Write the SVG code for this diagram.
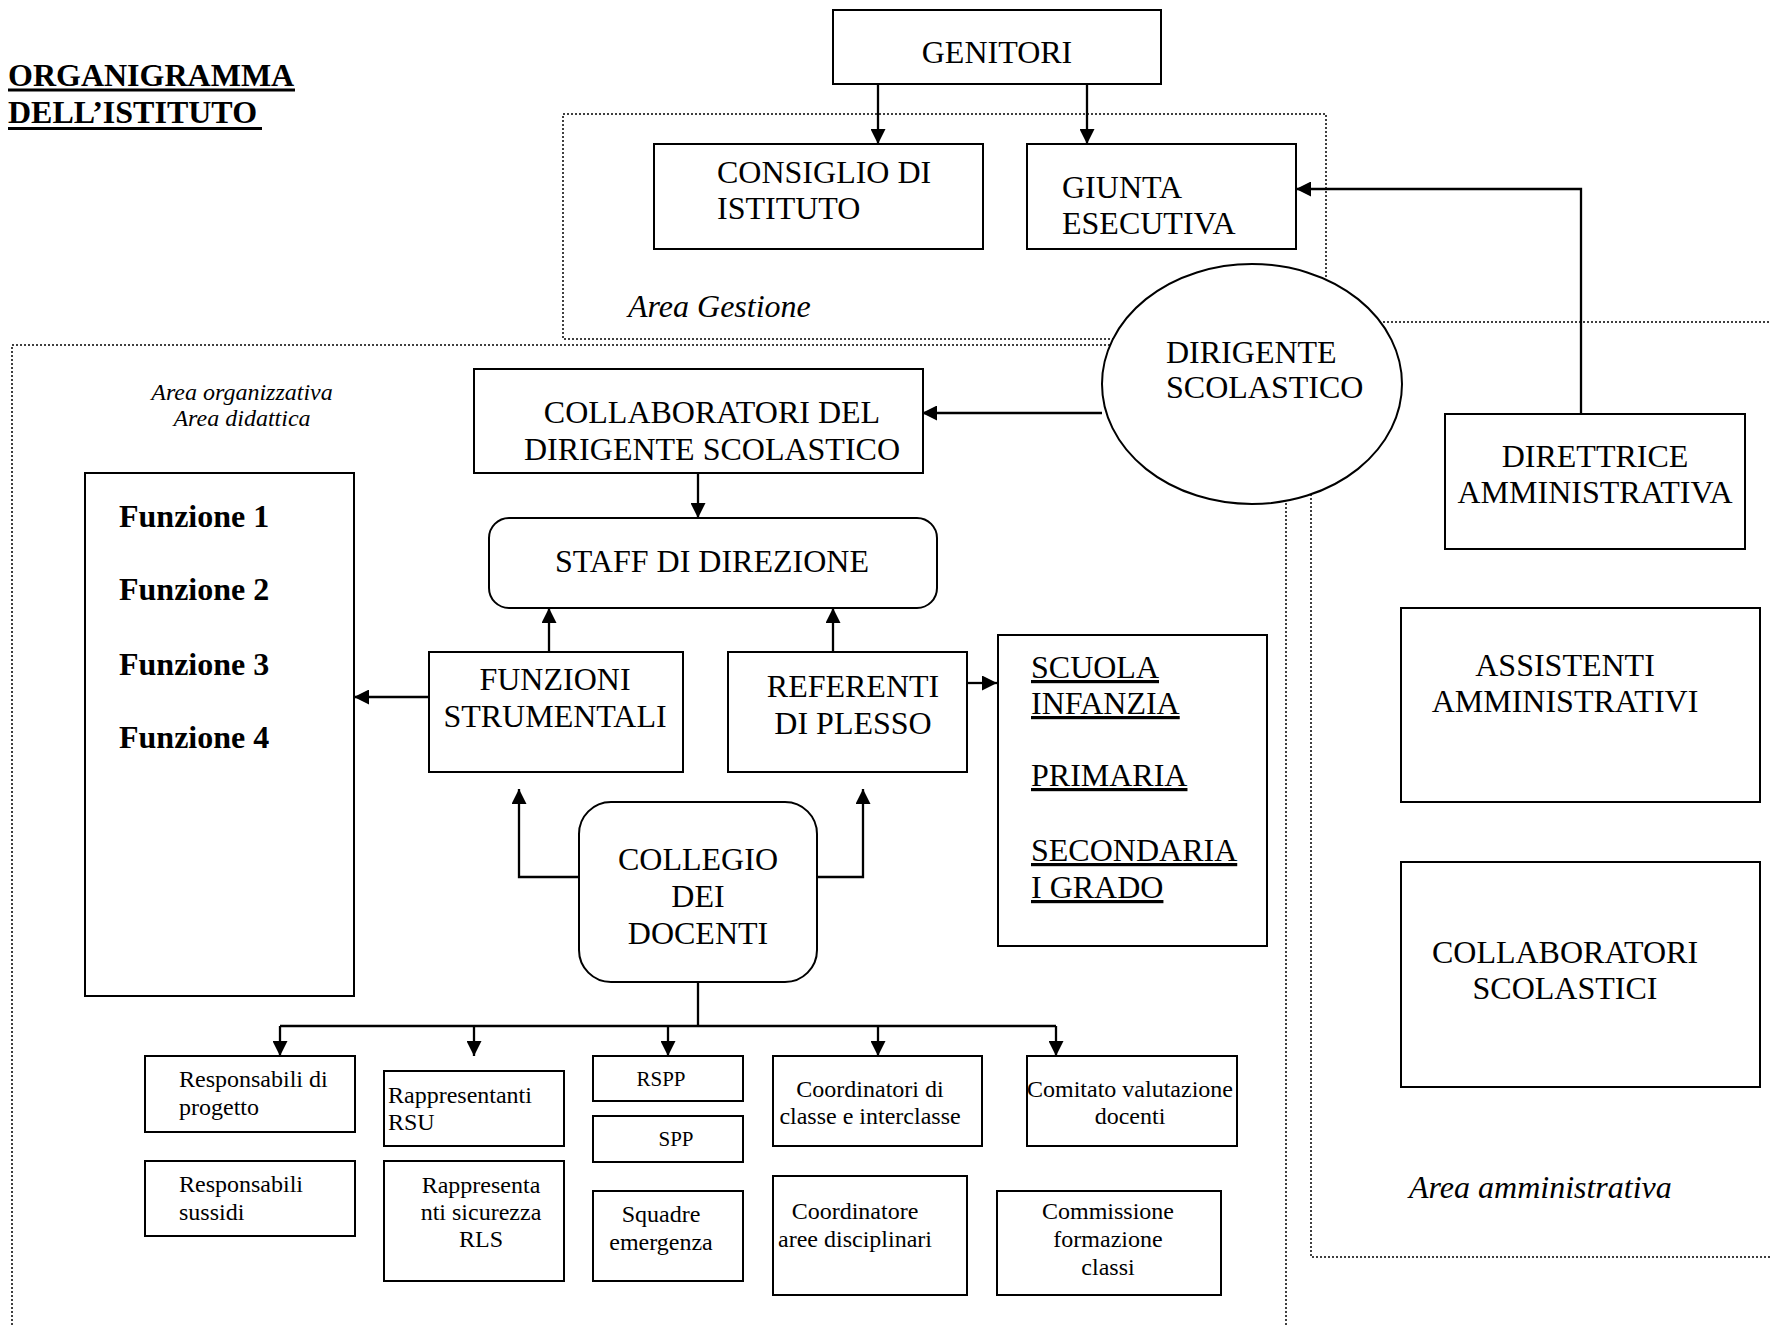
<svg xmlns="http://www.w3.org/2000/svg" width="1770" height="1327" viewBox="0 0 1770 1327">
<style>
text { font-family: "Liberation Serif", "Times New Roman", serif; font-size: 32px; fill: #000; }
.s { font-size: 24px; }
.xs { font-size: 21px; }
.b { font-weight: bold; }
.i { font-style: italic; }
.u { text-decoration: underline; }
.m { text-anchor: middle; }
.box { fill: #fff; stroke: #000; stroke-width: 2; }
.dot { fill: none; stroke: #000; stroke-width: 1.5; stroke-dasharray: 2 2; }
.ul { stroke: #000; stroke-width: 3; }
#connectors path { fill: none; stroke: #000; stroke-width: 2.3; }
.arr { marker-end: url(#ah); }
</style>
<defs>
<marker id="ah" viewBox="0 0 15 15" markerWidth="15" markerHeight="15" refX="15" refY="7.5" orient="auto" markerUnits="userSpaceOnUse">
<path d="M0,0 L15,7.5 L0,15 Z" fill="#000"/>
</marker>
</defs>
<rect width="1770" height="1327" fill="#fff"/>

<g id="title">
<text x="8" y="86" class="b">ORGANIGRAMMA</text>
<text x="8" y="123" class="b">DELL’ISTITUTO</text>
<line class="ul" x1="8" y1="90" x2="295" y2="90"/>
<line class="ul" x1="8" y1="128.5" x2="262" y2="128.5"/>
</g>

<g id="areas">
<rect class="dot" x="563" y="114" width="763" height="225"/>
<rect class="dot" x="12" y="345" width="1274" height="1020"/>
<rect class="dot" x="1311" y="322" width="520" height="935"/>
<text x="628" y="317" class="i">Area Gestione</text>
<text x="242" y="400" class="s i m">Area organizzativa</text>
<text x="242" y="426" class="s i m">Area didattica</text>
<text x="1409" y="1198" class="i">Area amministrativa</text>
</g>

<g id="connectors">
<path class="arr" d="M878,84 V144"/>
<path class="arr" d="M1087,84 V144"/>
<path class="arr" d="M1581,414 V189 H1296"/>
<path class="arr" d="M1102,413 H922"/>
<path class="arr" d="M698,473 V518"/>
<path class="arr" d="M549,652 V608"/>
<path class="arr" d="M833,652 V608"/>
<path class="arr" d="M429,697 H354"/>
<path class="arr" d="M967,683 H997"/>
<path class="arr" d="M579,877 H519 V789"/>
<path class="arr" d="M817,877 H863 V789"/>
<path d="M698,982 V1026 M280,1026 H1056"/>
<path class="arr" d="M280,1026 V1056"/>
<path class="arr" d="M474,1026 V1056"/>
<path class="arr" d="M668,1026 V1056"/>
<path class="arr" d="M878,1026 V1056"/>
<path class="arr" d="M1056,1026 V1056"/>
</g>

<g id="genitori">
<rect class="box" x="833" y="10" width="328" height="74"/>
<text x="997" y="63" class="m">GENITORI</text>
</g>
<g id="consiglio">
<rect class="box" x="654" y="144" width="329" height="105"/>
<text x="717" y="183">CONSIGLIO DI</text>
<text x="717" y="219">ISTITUTO</text>
</g>
<g id="giunta">
<rect class="box" x="1027" y="144" width="269" height="105"/>
<text x="1062" y="198">GIUNTA</text>
<text x="1062" y="234">ESECUTIVA</text>
</g>
<g id="dirigente">
<ellipse class="box" cx="1252" cy="384" rx="150" ry="120"/>
<text x="1166" y="363">DIRIGENTE</text>
<text x="1166" y="398">SCOLASTICO</text>
</g>
<g id="direttrice">
<rect class="box" x="1445" y="414" width="300" height="135"/>
<text x="1595" y="467" class="m">DIRETTRICE</text>
<text x="1595" y="503" class="m">AMMINISTRATIVA</text>
</g>
<g id="assistenti">
<rect class="box" x="1401" y="608" width="359" height="194"/>
<text x="1565" y="676" class="m">ASSISTENTI</text>
<text x="1565" y="712" class="m">AMMINISTRATIVI</text>
</g>
<g id="collab-scolastici">
<rect class="box" x="1401" y="862" width="359" height="225"/>
<text x="1565" y="963" class="m">COLLABORATORI</text>
<text x="1565" y="999" class="m">SCOLASTICI</text>
</g>
<g id="collab-dirigente">
<rect class="box" x="474" y="369" width="449" height="104"/>
<text x="712" y="423" class="m">COLLABORATORI DEL</text>
<text x="712" y="460" class="m">DIRIGENTE SCOLASTICO</text>
</g>
<g id="staff">
<rect class="box" x="489" y="518" width="448" height="90" rx="20"/>
<text x="712" y="572" class="m">STAFF DI DIREZIONE</text>
</g>
<g id="funzioni-elenco">
<rect class="box" x="85" y="473" width="269" height="523"/>
<text x="119" y="527" class="b">Funzione 1</text>
<text x="119" y="600" class="b">Funzione 2</text>
<text x="119" y="675" class="b">Funzione 3</text>
<text x="119" y="748" class="b">Funzione 4</text>
</g>
<g id="funzioni-strumentali">
<rect class="box" x="429" y="652" width="254" height="120"/>
<text x="555" y="690" class="m">FUNZIONI</text>
<text x="555" y="727" class="m">STRUMENTALI</text>
</g>
<g id="referenti">
<rect class="box" x="728" y="652" width="239" height="120"/>
<text x="853" y="697" class="m">REFERENTI</text>
<text x="853" y="734" class="m">DI PLESSO</text>
</g>
<g id="scuole">
<rect class="box" x="998" y="635" width="269" height="311"/>
<text x="1031" y="678" class="u">SCUOLA</text>
<text x="1031" y="714" class="u">INFANZIA</text>
<text x="1031" y="786" class="u">PRIMARIA</text>
<text x="1031" y="861" class="u">SECONDARIA</text>
<text x="1031" y="898" class="u">I GRADO</text>
</g>
<g id="collegio">
<rect class="box" x="579" y="802" width="238" height="180" rx="32"/>
<text x="698" y="870" class="m">COLLEGIO</text>
<text x="698" y="907" class="m">DEI</text>
<text x="698" y="944" class="m">DOCENTI</text>
</g>
<g id="resp-progetto">
<rect class="box" x="145" y="1056" width="210" height="76"/>
<text x="179" y="1087" class="s">Responsabili di</text>
<text x="179" y="1115" class="s">progetto</text>
</g>
<g id="resp-sussidi">
<rect class="box" x="145" y="1161" width="210" height="75"/>
<text x="179" y="1192" class="s">Responsabili</text>
<text x="179" y="1220" class="s">sussidi</text>
</g>
<g id="rsu">
<rect class="box" x="384" y="1071" width="180" height="75"/>
<text x="388" y="1103" class="s">Rappresentanti</text>
<text x="388" y="1130" class="s">RSU</text>
</g>
<g id="rls">
<rect class="box" x="384" y="1161" width="180" height="120"/>
<text x="481" y="1193" class="s m">Rappresenta</text>
<text x="481" y="1220" class="s m">nti sicurezza</text>
<text x="481" y="1247" class="s m">RLS</text>
</g>
<g id="rspp">
<rect class="box" x="593" y="1056" width="150" height="45"/>
<text x="661" y="1086" class="xs m">RSPP</text>
</g>
<g id="spp">
<rect class="box" x="593" y="1116" width="150" height="46"/>
<text x="676" y="1146" class="xs m">SPP</text>
</g>
<g id="squadre">
<rect class="box" x="593" y="1191" width="150" height="90"/>
<text x="661" y="1222" class="s m">Squadre</text>
<text x="661" y="1250" class="s m">emergenza</text>
</g>
<g id="coord-classe">
<rect class="box" x="773" y="1056" width="209" height="90"/>
<text x="870" y="1097" class="s m">Coordinatori di</text>
<text x="870" y="1124" class="s m">classe e interclasse</text>
</g>
<g id="comitato">
<rect class="box" x="1027" y="1056" width="210" height="90"/>
<text x="1130" y="1097" class="s m">Comitato valutazione</text>
<text x="1130" y="1124" class="s m">docenti</text>
</g>
<g id="coord-aree">
<rect class="box" x="773" y="1176" width="194" height="119"/>
<text x="855" y="1219" class="s m">Coordinatore</text>
<text x="855" y="1247" class="s m">aree disciplinari</text>
</g>
<g id="commissione">
<rect class="box" x="997" y="1191" width="224" height="104"/>
<text x="1108" y="1219" class="s m">Commissione</text>
<text x="1108" y="1247" class="s m">formazione</text>
<text x="1108" y="1275" class="s m">classi</text>
</g>
</svg>
